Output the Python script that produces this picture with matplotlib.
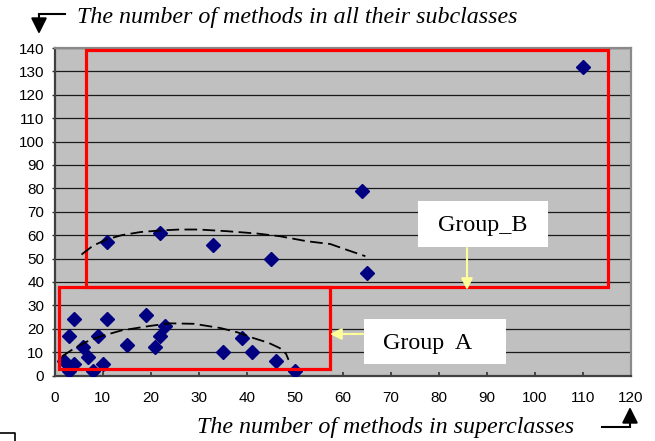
import matplotlib.pyplot as plt
from matplotlib.lines import Line2D
from matplotlib.patches import Rectangle

# data
low_x = [2, 3, 3, 4, 4, 6, 7, 8, 9, 10, 11, 15, 19, 21, 22, 23, 35, 39, 41, 46, 50]
low_y = [6, 2, 17, 24, 5, 12, 8, 2, 17, 5, 24, 13, 26, 12, 17, 21, 10, 16, 10, 6, 2]
high_x = [11, 22, 33, 45, 64, 65, 110]
high_y = [57, 61, 56, 50, 79, 44, 132]

# hand drawn dashed arcs
arc_a_x = [1.5, 4, 6.5, 9.5, 14, 19.9, 24, 29, 34.5, 38, 41.4, 44.5, 46.9, 48.2, 48.7]
arc_a_y = [8.1, 11.5, 14.3, 16.7, 19.3, 21.2, 22.3, 22.1, 20.3, 18.5, 16, 14, 11.7, 9.2, 6.7]
arc_b_x = [5.6, 8, 10.9, 14, 17.8, 22, 26, 30, 35.8, 42.1, 47, 52.5, 57.4, 61, 64.7]
arc_b_y = [51.7, 55.5, 58.2, 60, 61.3, 62, 62.4, 62.4, 61.7, 60.7, 59.5, 57.4, 56.2, 53.6, 51]

xticks = list(range(0, 121, 10))
yticks = list(range(0, 141, 10))

W, H = 655, 441
fig = plt.figure(figsize=(W / 100, H / 100), dpi=100)
ax = fig.add_axes([54.6 / W, 1 - 375.5 / H, (631 - 54.6) / W, (375.5 - 48) / H])
ax.set_facecolor('#c0c0c0')
ax.set_xlim(0, 120)
ax.set_ylim(0, 140)
ax.set_xticks(xticks)
ax.set_yticks(yticks)
for t in ax.get_xticklabels() + ax.get_yticklabels():
    t.set_fontfamily('Liberation Sans')
    t.set_fontsize(11)
ax.tick_params(axis='x', direction='in', length=3, pad=11, width=1.2, color='#303030')
ax.tick_params(axis='y', direction='out', length=2.5, pad=5, width=1, color='#303030')
ax.yaxis.grid(True, color='#1a1a1a', lw=0.9)
ax.set_axisbelow(True)
for s in ['left', 'bottom']:
    ax.spines[s].set_color('#404040')
    ax.spines[s].set_linewidth(1.6)
for s in ['top', 'right']:
    ax.spines[s].set_color('#8a8a8a')
    ax.spines[s].set_linewidth(1.6)

ax.plot(low_x + high_x, low_y + high_y, 'D', color='#000080', markersize=7.5, zorder=3)

ax.plot(arc_a_x, arc_a_y, color='black', lw=1.3, dashes=(7, 3), zorder=5)
ax.plot(arc_b_x, arc_b_y, color='black', lw=1.3, dashes=(7, 3), zorder=5)

ax.add_patch(Rectangle((6.5, 37.8), 115.2 - 6.5, 139 - 37.8, fill=False,
                       edgecolor='#ff0000', lw=2.3, zorder=4, clip_on=False))
ax.add_patch(Rectangle((0.9, 2.7), 57.4 - 0.9, 37.9 - 2.7, fill=False,
                       edgecolor='#ff0000', lw=2.3, zorder=4, clip_on=False))


def fx(x):
    return x / W


def fy(y):
    return 1 - y / H


# label boxes
fig.patches.append(Rectangle((fx(418), fy(247)), 130 / W, 46 / H, transform=fig.transFigure,
                             facecolor='white', edgecolor='none', zorder=6))
fig.patches.append(Rectangle((fx(364), fy(364)), 142 / W, 45 / H, transform=fig.transFigure,
                             facecolor='white', edgecolor='none', zorder=6))
fig.text(fx(483), fy(225), 'Group_B', family='Liberation Serif', fontsize=17.3,
         ha='center', va='center', zorder=7)
fig.text(fx(428), fy(343), 'Group  A', family='Liberation Serif', fontsize=17.3,
         ha='center', va='center', zorder=7)

# yellow pointers
yel = dict(arrowstyle='-|>', color='#ffff99', lw=1.5, mutation_scale=17, shrinkA=0, shrinkB=0)
ax.annotate('', xy=(467, H - 290), xytext=(467, H - 248), xycoords='figure pixels',
            textcoords='figure pixels', arrowprops=yel, zorder=8)
ax.annotate('', xy=(330, H - 334), xytext=(363, H - 334), xycoords='figure pixels',
            textcoords='figure pixels', arrowprops=yel, zorder=8)

# axis titles with bent arrows
fig.text(fx(77), fy(18), 'The number of methods in all their subclasses',
         family='Liberation Serif', style='italic', fontsize=17.3, ha='left', va='center')
fig.text(fx(197), fy(427), 'The number of methods in superclasses',
         family='Liberation Serif', style='italic', fontsize=17.3, ha='left', va='center')

blk = dict(arrowstyle='-|>', color='black', lw=1.5, mutation_scale=24, shrinkA=0, shrinkB=0)
fig.add_artist(Line2D([fx(65), fx(39)], [fy(14), fy(14)], color='black', lw=1.5,
                      transform=fig.transFigure))
ax.annotate('', xy=(39, H - 34), xytext=(39, H - 14), xycoords='figure pixels',
            textcoords='figure pixels', arrowprops=blk)
fig.add_artist(Line2D([fx(602), fx(630)], [fy(427), fy(427)], color='black', lw=1.5,
                      transform=fig.transFigure))
ax.annotate('', xy=(630, H - 407), xytext=(630, H - 427), xycoords='figure pixels',
            textcoords='figure pixels', arrowprops=blk)

# stray corner mark at the bottom left
fig.add_artist(Line2D([fx(0), fx(15), fx(15)], [fy(433), fy(433), fy(441)], color='black',
                      lw=1.2, transform=fig.transFigure))

fig.savefig('out.png', dpi=100)
